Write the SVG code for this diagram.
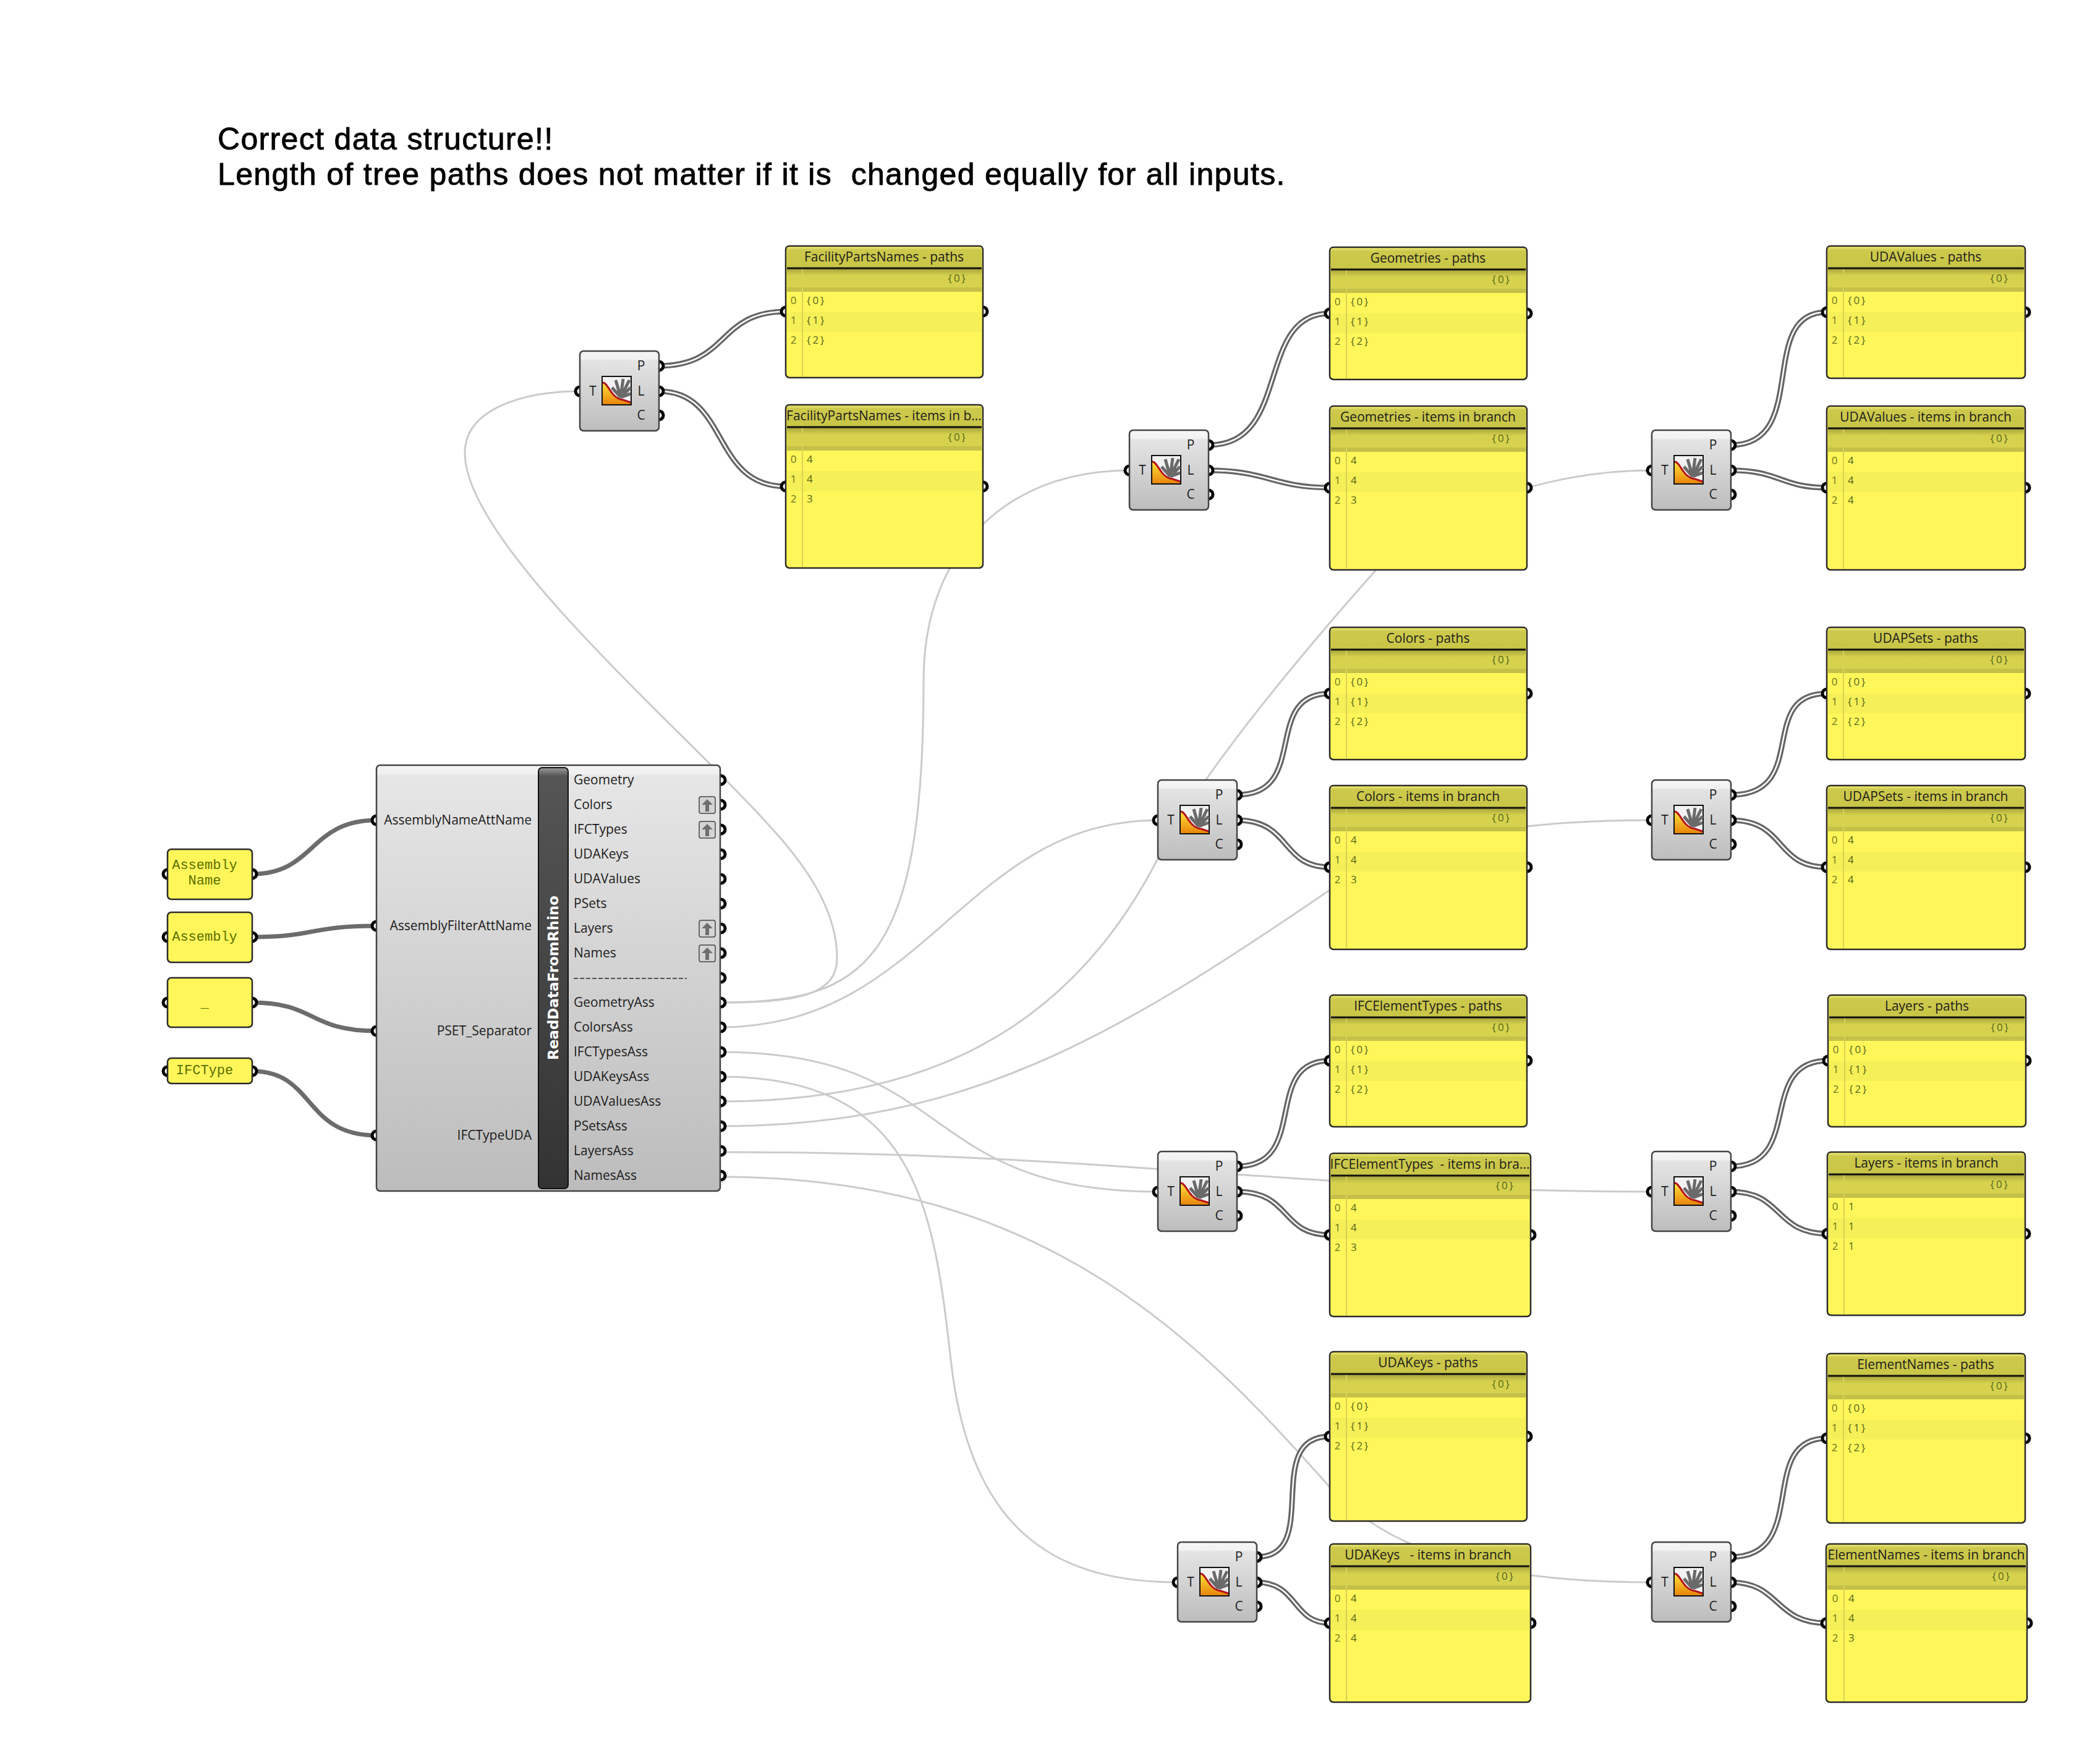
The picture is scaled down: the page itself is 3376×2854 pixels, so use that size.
<svg xmlns="http://www.w3.org/2000/svg" width="3376" height="2854" viewBox="0 0 3376 2854">
<style>
text{font-family:"Open Sans","Noto Sans","Liberation Sans",sans-serif;font-size:21px;fill:#1c1c1c}
.hl{font-family:"Liberation Sans",Arial,sans-serif;font-size:50px;fill:#000;white-space:pre;stroke:#000;stroke-width:.9px;letter-spacing:1.34px}
.m{text-anchor:middle}.e{text-anchor:end}
.mono{font-family:"Open Sans","Noto Sans",sans-serif;font-size:17px;fill:#56661a;letter-spacing:3px}
.idx{fill:#6e7420;text-anchor:middle}
.inp{font-family:"Liberation Mono","Courier New",monospace;font-size:22px;fill:#5a6e00;text-anchor:middle}
.pt{fill:#fff;stroke:#000;stroke-width:5}
.pb{fill:#fff75a;stroke:#2b2b2b;stroke-width:2.5}
.ph{fill:url(#gt)}.pc{fill:url(#gc)}.ps{fill:#f5ef58}
.cl{stroke:#d8d254;stroke-width:2}.tl{stroke:#111;stroke-width:3}
.lw{fill:none;stroke:#cbcbcb;stroke-width:3}
.hw{fill:none;stroke:#6c6c6c;stroke-width:7}
.d1{fill:none;stroke:#666;stroke-width:9}
.d2{fill:none;stroke:#fff;stroke-width:2.5}
</style>
<defs>
<linearGradient id="gt" x1="0" y1="0" x2="0" y2="1"><stop offset="0" stop-color="#e8e476"/><stop offset=".12" stop-color="#cdc94c"/><stop offset="1" stop-color="#c9c546"/></linearGradient>
<linearGradient id="gc" x1="0" y1="0" x2="0" y2="1"><stop offset="0" stop-color="#aaa63c"/><stop offset=".3" stop-color="#d6d24e"/><stop offset=".8" stop-color="#d6d24e"/><stop offset=".81" stop-color="#c4c048"/><stop offset="1" stop-color="#c4c048"/></linearGradient>
<linearGradient id="gb" x1="0" y1="0" x2="0" y2="1"><stop offset="0" stop-color="#f6f6f6"/><stop offset=".1" stop-color="#f2f2f2"/><stop offset=".12" stop-color="#e4e4e4"/><stop offset="1" stop-color="#bdbdbd"/></linearGradient>
<linearGradient id="gm" x1="0" y1="0" x2="0" y2="1"><stop offset="0" stop-color="#f4f4f4"/><stop offset=".02" stop-color="#f0f0f0"/><stop offset=".025" stop-color="#e6e6e6"/><stop offset="1" stop-color="#bcbcbc"/></linearGradient>
<linearGradient id="gk" x1="0" y1="0" x2="0" y2="1"><stop offset="0" stop-color="#9a9a9a"/><stop offset=".02" stop-color="#555"/><stop offset="1" stop-color="#333"/></linearGradient>
<linearGradient id="gi" x1="0" y1="0" x2="0" y2="1"><stop offset="0" stop-color="#ffe23a"/><stop offset="1" stop-color="#e8860c"/></linearGradient>
<g id="cb"><rect width="128" height="129" rx="6" fill="url(#gb)" stroke="#444" stroke-width="2.5"/></g>
<g id="ic"><rect width="47" height="46" fill="#f2f2f2" stroke="#111" stroke-width="2"/><path d="M30 34L44 6M30 34L34 4M30 34L22 6M30 34L46 18M30 34L46 28M30 34L16 18" stroke="#6a6a6a" stroke-width="5" fill="none"/><path d="M1 10C10 10 14 36 34 38L46 42V45H1Z" fill="url(#gi)"/><path d="M1 10C10 10 14 36 34 38L46 42" stroke="#b5121b" stroke-width="3" fill="none"/></g>
<g id="ub"><rect width="26" height="27" rx="3" fill="#d4d4d4" stroke="#444" stroke-width="1.5"/><path d="M13 4L22 13H16V24H10V13H4Z" fill="#6e6e6e"/></g>
<path id="dA1" d="M1066 592C1180 592 1160 504 1271 504"/>
<path id="dA2" d="M1066 633C1180 633 1150 787 1271 787"/>
<path id="dB1" d="M1956 720C2090 720 2030 507 2151 507"/>
<path id="dB2" d="M1956 761C2050 761 2060 789 2151 789"/>
<path id="dC1" d="M2800 720C2930 720 2840 505 2955 505"/>
<path id="dC2" d="M2800 761C2880 761 2880 789 2955 789"/>
<path id="dD1" d="M2001 1286C2120 1286 2040 1122 2151 1122"/>
<path id="dD2" d="M2001 1327C2090 1327 2070 1403 2151 1403"/>
<path id="dE1" d="M2800 1286C2930 1286 2840 1122 2955 1122"/>
<path id="dE2" d="M2800 1327C2890 1327 2870 1403 2955 1403"/>
<path id="dF1" d="M2001 1887C2120 1887 2040 1716 2151 1716"/>
<path id="dF2" d="M2001 1928C2090 1928 2070 1998 2151 1998"/>
<path id="dG1" d="M2800 1887C2920 1887 2840 1716 2957 1716"/>
<path id="dG2" d="M2800 1928C2885 1928 2870 1996 2956 1996"/>
<path id="dH1" d="M2033 2519C2140 2519 2040 2324 2151 2324"/>
<path id="dH2" d="M2033 2560C2100 2560 2090 2626 2151 2626"/>
<path id="dI1" d="M2800 2519C2930 2519 2840 2327 2955 2327"/>
<path id="dI2" d="M2800 2560C2880 2560 2870 2626 2954 2626"/>
</defs>
<rect width="3376" height="2854" fill="#fff"/>
<text class="hl" x="352" y="242">Correct data structure!!</text>
<text class="hl" x="352" y="299">Length of tree paths does not matter if it is  changed equally for all inputs.</text>

<g id="connectors">
<path class="lw" d="M1166 1622C1290 1622 1354 1610 1354 1550C1354 1470 1300 1395 1240 1331C1100 1175 752 880 752 733C752 660 850 633 938 633"/>
<path class="lw" d="M1166 1622C1400 1622 1494 1560 1494 1100C1494 900 1620 761 1827 761"/>
<path class="lw" d="M1166 1662C1500 1662 1560 1327 1873 1327"/>
<path class="lw" d="M1166 1702C1550 1702 1480 1928 1873 1928"/>
<path class="lw" d="M1166 1864C1800 1864 2100 1928 2672 1928"/>
<path class="lw" d="M1166 1742C1480 1742 1510 1950 1538 2200C1568 2470 1700 2560 1905 2560"/>
<path class="lw" d="M1166 1782C1480 1782 1730 1680 1880 1375C1950 1240 2130 1030 2226 922C2300 840 2480 761 2672 761"/>
<path class="lw" d="M1166 1822C1560 1822 1800 1680 2151 1440C2280 1355 2450 1327 2672 1327"/>
<path class="lw" d="M1166 1904C1700 1904 1950 2180 2160 2416C2260 2516 2420 2560 2672 2560"/>
<path class="hw" d="M408 1414C510 1414 500 1327 609 1327"/>
<path class="hw" d="M408 1516C510 1516 500 1498 609 1498"/>
<path class="hw" d="M408 1622C510 1622 500 1668 609 1668"/>
<path class="hw" d="M408 1733C510 1733 490 1837 609 1837"/>
<g class="d1"><use href="#dA1"/><use href="#dA2"/><use href="#dB1"/><use href="#dB2"/><use href="#dC1"/><use href="#dC2"/><use href="#dD1"/><use href="#dD2"/><use href="#dE1"/><use href="#dE2"/><use href="#dF1"/><use href="#dF2"/><use href="#dG1"/><use href="#dG2"/><use href="#dH1"/><use href="#dH2"/><use href="#dI1"/><use href="#dI2"/></g>
<g class="d2"><use href="#dA1"/><use href="#dA2"/><use href="#dB1"/><use href="#dB2"/><use href="#dC1"/><use href="#dC2"/><use href="#dD1"/><use href="#dD2"/><use href="#dE1"/><use href="#dE2"/><use href="#dF1"/><use href="#dF2"/><use href="#dG1"/><use href="#dG2"/><use href="#dH1"/><use href="#dH2"/><use href="#dI1"/><use href="#dI2"/></g>
</g>

<g id="input-assembly-name"><circle class="pt" cx="271" cy="1414" r="7"/><circle class="pt" cx="408" cy="1414" r="7"/><rect class="pb" x="271" y="1374" width="137" height="81" rx="6"/><text class="inp" x="331" y="1406">Assembly</text><text class="inp" x="331" y="1431">Name</text></g>
<g id="input-assembly"><circle class="pt" cx="271" cy="1516" r="7"/><circle class="pt" cx="408" cy="1516" r="7"/><rect class="pb" x="271" y="1476" width="137" height="81" rx="6"/><text class="inp" x="331" y="1522">Assembly</text></g>
<g id="input-separator"><circle class="pt" cx="271" cy="1622" r="7"/><circle class="pt" cx="408" cy="1622" r="7"/><rect class="pb" x="271" y="1582" width="137" height="80" rx="6"/><text class="inp" x="331" y="1630">_</text></g>
<g id="input-ifctype"><circle class="pt" cx="271" cy="1733" r="7"/><circle class="pt" cx="408" cy="1733" r="7"/><rect class="pb" x="271" y="1712" width="137" height="41" rx="6"/><text class="inp" x="331" y="1738">IFCType</text></g>

<g id="read-data-from-rhino">
<circle class="pt" cx="609" cy="1327" r="7"/><circle class="pt" cx="609" cy="1498" r="7"/><circle class="pt" cx="609" cy="1668" r="7"/><circle class="pt" cx="609" cy="1837" r="7"/>
<circle class="pt" cx="1166" cy="1262" r="7"/><circle class="pt" cx="1166" cy="1302" r="7"/><circle class="pt" cx="1166" cy="1342" r="7"/><circle class="pt" cx="1166" cy="1382" r="7"/><circle class="pt" cx="1166" cy="1422" r="7"/><circle class="pt" cx="1166" cy="1462" r="7"/><circle class="pt" cx="1166" cy="1502" r="7"/><circle class="pt" cx="1166" cy="1542" r="7"/><circle class="pt" cx="1166" cy="1582" r="7"/><circle class="pt" cx="1166" cy="1622" r="7"/><circle class="pt" cx="1166" cy="1662" r="7"/><circle class="pt" cx="1166" cy="1702" r="7"/><circle class="pt" cx="1166" cy="1742" r="7"/><circle class="pt" cx="1166" cy="1782" r="7"/><circle class="pt" cx="1166" cy="1822" r="7"/><circle class="pt" cx="1166" cy="1862" r="7"/><circle class="pt" cx="1166" cy="1902" r="7"/>
<rect x="609" y="1238" width="556" height="689" rx="6" fill="url(#gm)" stroke="#444" stroke-width="2.5"/>
<rect x="871" y="1242" width="48" height="681" rx="6" fill="url(#gk)" stroke="#111" stroke-width="2"/>
<text transform="translate(903,1582) rotate(-90)" class="m" style="font-family:'DejaVu Sans',sans-serif;font-weight:700;font-size:23px;fill:#fff">ReadDataFromRhino</text>
<text class="e" x="860" y="1334">AssemblyNameAttName</text><text class="e" x="860" y="1505">AssemblyFilterAttName</text><text class="e" x="860" y="1675">PSET_Separator</text><text class="e" x="860" y="1844">IFCTypeUDA</text>
<text x="928" y="1269">Geometry</text><text x="928" y="1309">Colors</text><text x="928" y="1349">IFCTypes</text><text x="928" y="1389">UDAKeys</text><text x="928" y="1429">UDAValues</text><text x="928" y="1469">PSets</text><text x="928" y="1509">Layers</text><text x="928" y="1549">Names</text>
<line x1="928" y1="1583" x2="1111" y2="1583" stroke="#555" stroke-width="2" stroke-dasharray="7 3"/>
<text x="928" y="1629">GeometryAss</text><text x="928" y="1669">ColorsAss</text><text x="928" y="1709">IFCTypesAss</text><text x="928" y="1749">UDAKeysAss</text><text x="928" y="1789">UDAValuesAss</text><text x="928" y="1829">PSetsAss</text><text x="928" y="1869">LayersAss</text><text x="928" y="1909">NamesAss</text>
<use href="#ub" x="1131" y="1289"/><use href="#ub" x="1131" y="1329"/><use href="#ub" x="1131" y="1489"/><use href="#ub" x="1131" y="1529"/>
</g>

<g id="comp-a" transform="translate(938,568)"><circle class="pt" cy="65" r="7"/><circle class="pt" cx="128" cy="24" r="7"/><circle class="pt" cx="128" cy="65" r="7"/><circle class="pt" cx="128" cy="104" r="7"/><use href="#cb"/><use href="#ic" x="36" y="41"/><text class="m" x="21" y="72">T</text><text class="m" x="99" y="31">P</text><text class="m" x="99" y="72">L</text><text class="m" x="99" y="111">C</text></g>
<g id="comp-b" transform="translate(1827,696)"><circle class="pt" cy="65" r="7"/><circle class="pt" cx="128" cy="24" r="7"/><circle class="pt" cx="128" cy="65" r="7"/><circle class="pt" cx="128" cy="104" r="7"/><use href="#cb"/><use href="#ic" x="36" y="41"/><text class="m" x="21" y="72">T</text><text class="m" x="99" y="31">P</text><text class="m" x="99" y="72">L</text><text class="m" x="99" y="111">C</text></g>
<g id="comp-c" transform="translate(2672,696)"><circle class="pt" cy="65" r="7"/><circle class="pt" cx="128" cy="24" r="7"/><circle class="pt" cx="128" cy="65" r="7"/><circle class="pt" cx="128" cy="104" r="7"/><use href="#cb"/><use href="#ic" x="36" y="41"/><text class="m" x="21" y="72">T</text><text class="m" x="99" y="31">P</text><text class="m" x="99" y="72">L</text><text class="m" x="99" y="111">C</text></g>
<g id="comp-d" transform="translate(1873,1262)"><circle class="pt" cy="65" r="7"/><circle class="pt" cx="128" cy="24" r="7"/><circle class="pt" cx="128" cy="65" r="7"/><circle class="pt" cx="128" cy="104" r="7"/><use href="#cb"/><use href="#ic" x="36" y="41"/><text class="m" x="21" y="72">T</text><text class="m" x="99" y="31">P</text><text class="m" x="99" y="72">L</text><text class="m" x="99" y="111">C</text></g>
<g id="comp-e" transform="translate(2672,1262)"><circle class="pt" cy="65" r="7"/><circle class="pt" cx="128" cy="24" r="7"/><circle class="pt" cx="128" cy="65" r="7"/><circle class="pt" cx="128" cy="104" r="7"/><use href="#cb"/><use href="#ic" x="36" y="41"/><text class="m" x="21" y="72">T</text><text class="m" x="99" y="31">P</text><text class="m" x="99" y="72">L</text><text class="m" x="99" y="111">C</text></g>
<g id="comp-f" transform="translate(1873,1863)"><circle class="pt" cy="65" r="7"/><circle class="pt" cx="128" cy="24" r="7"/><circle class="pt" cx="128" cy="65" r="7"/><circle class="pt" cx="128" cy="104" r="7"/><use href="#cb"/><use href="#ic" x="36" y="41"/><text class="m" x="21" y="72">T</text><text class="m" x="99" y="31">P</text><text class="m" x="99" y="72">L</text><text class="m" x="99" y="111">C</text></g>
<g id="comp-g" transform="translate(2672,1863)"><circle class="pt" cy="65" r="7"/><circle class="pt" cx="128" cy="24" r="7"/><circle class="pt" cx="128" cy="65" r="7"/><circle class="pt" cx="128" cy="104" r="7"/><use href="#cb"/><use href="#ic" x="36" y="41"/><text class="m" x="21" y="72">T</text><text class="m" x="99" y="31">P</text><text class="m" x="99" y="72">L</text><text class="m" x="99" y="111">C</text></g>
<g id="comp-h" transform="translate(1905,2495)"><circle class="pt" cy="65" r="7"/><circle class="pt" cx="128" cy="24" r="7"/><circle class="pt" cx="128" cy="65" r="7"/><circle class="pt" cx="128" cy="104" r="7"/><use href="#cb"/><use href="#ic" x="36" y="41"/><text class="m" x="21" y="72">T</text><text class="m" x="99" y="31">P</text><text class="m" x="99" y="72">L</text><text class="m" x="99" y="111">C</text></g>
<g id="comp-i" transform="translate(2672,2495)"><circle class="pt" cy="65" r="7"/><circle class="pt" cx="128" cy="24" r="7"/><circle class="pt" cx="128" cy="65" r="7"/><circle class="pt" cx="128" cy="104" r="7"/><use href="#cb"/><use href="#ic" x="36" y="41"/><text class="m" x="21" y="72">T</text><text class="m" x="99" y="31">P</text><text class="m" x="99" y="72">L</text><text class="m" x="99" y="111">C</text></g>

<g id="panel-a1" transform="translate(1271,398)"><circle class="pt" cy="106" r="7"/><circle class="pt" cx="319" cy="106" r="7"/><rect class="pb" width="319" height="213" rx="6"/><rect class="ph" x="2" y="2" width="315" height="34"/><rect class="pc" x="2" y="37" width="315" height="37"/><rect class="ps" x="2" y="107" width="315" height="32"/><line class="cl" x1="27" y1="37" x2="27" y2="211"/><line class="tl" x1="2" y1="36" x2="317" y2="36"/><text class="m" x="159" y="25">FacilityPartsNames - paths</text><text class="mono e" x="294" y="58">{0}</text><text class="mono idx" x="14" y="94">0</text><text class="mono" x="34" y="94">{0}</text><text class="mono idx" x="14" y="126">1</text><text class="mono" x="34" y="126">{1}</text><text class="mono idx" x="14" y="158">2</text><text class="mono" x="34" y="158">{2}</text></g>
<g id="panel-a2" transform="translate(1271,655)"><circle class="pt" cy="132" r="7"/><circle class="pt" cx="319" cy="132" r="7"/><rect class="pb" width="319" height="264" rx="6"/><rect class="ph" x="2" y="2" width="315" height="34"/><rect class="pc" x="2" y="37" width="315" height="37"/><rect class="ps" x="2" y="107" width="315" height="32"/><line class="cl" x1="27" y1="37" x2="27" y2="262"/><line class="tl" x1="2" y1="36" x2="317" y2="36"/><text class="m" x="159" y="25">FacilityPartsNames - items in b...</text><text class="mono e" x="294" y="58">{0}</text><text class="mono idx" x="14" y="94">0</text><text class="mono" x="34" y="94">4</text><text class="mono idx" x="14" y="126">1</text><text class="mono" x="34" y="126">4</text><text class="mono idx" x="14" y="158">2</text><text class="mono" x="34" y="158">3</text></g>
<g id="panel-b1" transform="translate(2151,400)"><circle class="pt" cy="107" r="7"/><circle class="pt" cx="319" cy="107" r="7"/><rect class="pb" width="319" height="214" rx="6"/><rect class="ph" x="2" y="2" width="315" height="34"/><rect class="pc" x="2" y="37" width="315" height="37"/><rect class="ps" x="2" y="107" width="315" height="32"/><line class="cl" x1="27" y1="37" x2="27" y2="212"/><line class="tl" x1="2" y1="36" x2="317" y2="36"/><text class="m" x="159" y="25">Geometries - paths</text><text class="mono e" x="294" y="58">{0}</text><text class="mono idx" x="14" y="94">0</text><text class="mono" x="34" y="94">{0}</text><text class="mono idx" x="14" y="126">1</text><text class="mono" x="34" y="126">{1}</text><text class="mono idx" x="14" y="158">2</text><text class="mono" x="34" y="158">{2}</text></g>
<g id="panel-b2" transform="translate(2151,657)"><circle class="pt" cy="132" r="7"/><circle class="pt" cx="319" cy="132" r="7"/><rect class="pb" width="319" height="265" rx="6"/><rect class="ph" x="2" y="2" width="315" height="34"/><rect class="pc" x="2" y="37" width="315" height="37"/><rect class="ps" x="2" y="107" width="315" height="32"/><line class="cl" x1="27" y1="37" x2="27" y2="263"/><line class="tl" x1="2" y1="36" x2="317" y2="36"/><text class="m" x="159" y="25">Geometries - items in branch</text><text class="mono e" x="294" y="58">{0}</text><text class="mono idx" x="14" y="94">0</text><text class="mono" x="34" y="94">4</text><text class="mono idx" x="14" y="126">1</text><text class="mono" x="34" y="126">4</text><text class="mono idx" x="14" y="158">2</text><text class="mono" x="34" y="158">3</text></g>
<g id="panel-c1" transform="translate(2955,398)"><circle class="pt" cy="107" r="7"/><circle class="pt" cx="321" cy="107" r="7"/><rect class="pb" width="321" height="214" rx="6"/><rect class="ph" x="2" y="2" width="317" height="34"/><rect class="pc" x="2" y="37" width="317" height="37"/><rect class="ps" x="2" y="107" width="317" height="32"/><line class="cl" x1="27" y1="37" x2="27" y2="212"/><line class="tl" x1="2" y1="36" x2="319" y2="36"/><text class="m" x="160" y="25">UDAValues - paths</text><text class="mono e" x="296" y="58">{0}</text><text class="mono idx" x="14" y="94">0</text><text class="mono" x="34" y="94">{0}</text><text class="mono idx" x="14" y="126">1</text><text class="mono" x="34" y="126">{1}</text><text class="mono idx" x="14" y="158">2</text><text class="mono" x="34" y="158">{2}</text></g>
<g id="panel-c2" transform="translate(2955,657)"><circle class="pt" cy="132" r="7"/><circle class="pt" cx="321" cy="132" r="7"/><rect class="pb" width="321" height="265" rx="6"/><rect class="ph" x="2" y="2" width="317" height="34"/><rect class="pc" x="2" y="37" width="317" height="37"/><rect class="ps" x="2" y="107" width="317" height="32"/><line class="cl" x1="27" y1="37" x2="27" y2="263"/><line class="tl" x1="2" y1="36" x2="319" y2="36"/><text class="m" x="160" y="25">UDAValues - items in branch</text><text class="mono e" x="296" y="58">{0}</text><text class="mono idx" x="14" y="94">0</text><text class="mono" x="34" y="94">4</text><text class="mono idx" x="14" y="126">1</text><text class="mono" x="34" y="126">4</text><text class="mono idx" x="14" y="158">2</text><text class="mono" x="34" y="158">4</text></g>
<g id="panel-d1" transform="translate(2151,1015)"><circle class="pt" cy="107" r="7"/><circle class="pt" cx="319" cy="107" r="7"/><rect class="pb" width="319" height="214" rx="6"/><rect class="ph" x="2" y="2" width="315" height="34"/><rect class="pc" x="2" y="37" width="315" height="37"/><rect class="ps" x="2" y="107" width="315" height="32"/><line class="cl" x1="27" y1="37" x2="27" y2="212"/><line class="tl" x1="2" y1="36" x2="317" y2="36"/><text class="m" x="159" y="25">Colors - paths</text><text class="mono e" x="294" y="58">{0}</text><text class="mono idx" x="14" y="94">0</text><text class="mono" x="34" y="94">{0}</text><text class="mono idx" x="14" y="126">1</text><text class="mono" x="34" y="126">{1}</text><text class="mono idx" x="14" y="158">2</text><text class="mono" x="34" y="158">{2}</text></g>
<g id="panel-d2" transform="translate(2151,1271)"><circle class="pt" cy="132" r="7"/><circle class="pt" cx="319" cy="132" r="7"/><rect class="pb" width="319" height="265" rx="6"/><rect class="ph" x="2" y="2" width="315" height="34"/><rect class="pc" x="2" y="37" width="315" height="37"/><rect class="ps" x="2" y="107" width="315" height="32"/><line class="cl" x1="27" y1="37" x2="27" y2="263"/><line class="tl" x1="2" y1="36" x2="317" y2="36"/><text class="m" x="159" y="25">Colors - items in branch</text><text class="mono e" x="294" y="58">{0}</text><text class="mono idx" x="14" y="94">0</text><text class="mono" x="34" y="94">4</text><text class="mono idx" x="14" y="126">1</text><text class="mono" x="34" y="126">4</text><text class="mono idx" x="14" y="158">2</text><text class="mono" x="34" y="158">3</text></g>
<g id="panel-e1" transform="translate(2955,1015)"><circle class="pt" cy="107" r="7"/><circle class="pt" cx="321" cy="107" r="7"/><rect class="pb" width="321" height="214" rx="6"/><rect class="ph" x="2" y="2" width="317" height="34"/><rect class="pc" x="2" y="37" width="317" height="37"/><rect class="ps" x="2" y="107" width="317" height="32"/><line class="cl" x1="27" y1="37" x2="27" y2="212"/><line class="tl" x1="2" y1="36" x2="319" y2="36"/><text class="m" x="160" y="25">UDAPSets - paths</text><text class="mono e" x="296" y="58">{0}</text><text class="mono idx" x="14" y="94">0</text><text class="mono" x="34" y="94">{0}</text><text class="mono idx" x="14" y="126">1</text><text class="mono" x="34" y="126">{1}</text><text class="mono idx" x="14" y="158">2</text><text class="mono" x="34" y="158">{2}</text></g>
<g id="panel-e2" transform="translate(2955,1271)"><circle class="pt" cy="132" r="7"/><circle class="pt" cx="321" cy="132" r="7"/><rect class="pb" width="321" height="265" rx="6"/><rect class="ph" x="2" y="2" width="317" height="34"/><rect class="pc" x="2" y="37" width="317" height="37"/><rect class="ps" x="2" y="107" width="317" height="32"/><line class="cl" x1="27" y1="37" x2="27" y2="263"/><line class="tl" x1="2" y1="36" x2="319" y2="36"/><text class="m" x="160" y="25">UDAPSets - items in branch</text><text class="mono e" x="296" y="58">{0}</text><text class="mono idx" x="14" y="94">0</text><text class="mono" x="34" y="94">4</text><text class="mono idx" x="14" y="126">1</text><text class="mono" x="34" y="126">4</text><text class="mono idx" x="14" y="158">2</text><text class="mono" x="34" y="158">4</text></g>
<g id="panel-f1" transform="translate(2151,1610)"><circle class="pt" cy="106" r="7"/><circle class="pt" cx="319" cy="106" r="7"/><rect class="pb" width="319" height="213" rx="6"/><rect class="ph" x="2" y="2" width="315" height="34"/><rect class="pc" x="2" y="37" width="315" height="37"/><rect class="ps" x="2" y="107" width="315" height="32"/><line class="cl" x1="27" y1="37" x2="27" y2="211"/><line class="tl" x1="2" y1="36" x2="317" y2="36"/><text class="m" x="159" y="25">IFCElementTypes - paths</text><text class="mono e" x="294" y="58">{0}</text><text class="mono idx" x="14" y="94">0</text><text class="mono" x="34" y="94">{0}</text><text class="mono idx" x="14" y="126">1</text><text class="mono" x="34" y="126">{1}</text><text class="mono idx" x="14" y="158">2</text><text class="mono" x="34" y="158">{2}</text></g>
<g id="panel-f2" transform="translate(2151,1866)"><circle class="pt" cy="132" r="7"/><circle class="pt" cx="325" cy="132" r="7"/><rect class="pb" width="325" height="264" rx="6"/><rect class="ph" x="2" y="2" width="321" height="34"/><rect class="pc" x="2" y="37" width="321" height="37"/><rect class="ps" x="2" y="107" width="321" height="32"/><line class="cl" x1="27" y1="37" x2="27" y2="262"/><line class="tl" x1="2" y1="36" x2="323" y2="36"/><text class="m" x="162" y="25" style="white-space:pre">IFCElementTypes  - items in bra...</text><text class="mono e" x="300" y="58">{0}</text><text class="mono idx" x="14" y="94">0</text><text class="mono" x="34" y="94">4</text><text class="mono idx" x="14" y="126">1</text><text class="mono" x="34" y="126">4</text><text class="mono idx" x="14" y="158">2</text><text class="mono" x="34" y="158">3</text></g>
<g id="panel-g1" transform="translate(2957,1610)"><circle class="pt" cy="106" r="7"/><circle class="pt" cx="320" cy="106" r="7"/><rect class="pb" width="320" height="213" rx="6"/><rect class="ph" x="2" y="2" width="316" height="34"/><rect class="pc" x="2" y="37" width="316" height="37"/><rect class="ps" x="2" y="107" width="316" height="32"/><line class="cl" x1="27" y1="37" x2="27" y2="211"/><line class="tl" x1="2" y1="36" x2="318" y2="36"/><text class="m" x="160" y="25">Layers - paths</text><text class="mono e" x="295" y="58">{0}</text><text class="mono idx" x="14" y="94">0</text><text class="mono" x="34" y="94">{0}</text><text class="mono idx" x="14" y="126">1</text><text class="mono" x="34" y="126">{1}</text><text class="mono idx" x="14" y="158">2</text><text class="mono" x="34" y="158">{2}</text></g>
<g id="panel-g2" transform="translate(2956,1864)"><circle class="pt" cy="132" r="7"/><circle class="pt" cx="320" cy="132" r="7"/><rect class="pb" width="320" height="264" rx="6"/><rect class="ph" x="2" y="2" width="316" height="34"/><rect class="pc" x="2" y="37" width="316" height="37"/><rect class="ps" x="2" y="107" width="316" height="32"/><line class="cl" x1="27" y1="37" x2="27" y2="262"/><line class="tl" x1="2" y1="36" x2="318" y2="36"/><text class="m" x="160" y="25">Layers - items in branch</text><text class="mono e" x="295" y="58">{0}</text><text class="mono idx" x="14" y="94">0</text><text class="mono" x="34" y="94">1</text><text class="mono idx" x="14" y="126">1</text><text class="mono" x="34" y="126">1</text><text class="mono idx" x="14" y="158">2</text><text class="mono" x="34" y="158">1</text></g>
<g id="panel-h1" transform="translate(2151,2187)"><circle class="pt" cy="137" r="7"/><circle class="pt" cx="319" cy="137" r="7"/><rect class="pb" width="319" height="274" rx="6"/><rect class="ph" x="2" y="2" width="315" height="34"/><rect class="pc" x="2" y="37" width="315" height="37"/><rect class="ps" x="2" y="107" width="315" height="32"/><line class="cl" x1="27" y1="37" x2="27" y2="272"/><line class="tl" x1="2" y1="36" x2="317" y2="36"/><text class="m" x="159" y="25">UDAKeys - paths</text><text class="mono e" x="294" y="58">{0}</text><text class="mono idx" x="14" y="94">0</text><text class="mono" x="34" y="94">{0}</text><text class="mono idx" x="14" y="126">1</text><text class="mono" x="34" y="126">{1}</text><text class="mono idx" x="14" y="158">2</text><text class="mono" x="34" y="158">{2}</text></g>
<g id="panel-h2" transform="translate(2151,2498)"><circle class="pt" cy="128" r="7"/><circle class="pt" cx="325" cy="128" r="7"/><rect class="pb" width="325" height="256" rx="6"/><rect class="ph" x="2" y="2" width="321" height="34"/><rect class="pc" x="2" y="37" width="321" height="37"/><rect class="ps" x="2" y="107" width="321" height="32"/><line class="cl" x1="27" y1="37" x2="27" y2="254"/><line class="tl" x1="2" y1="36" x2="323" y2="36"/><text class="m" x="159" y="25" style="white-space:pre">UDAKeys   - items in branch</text><text class="mono e" x="300" y="58">{0}</text><text class="mono idx" x="14" y="94">0</text><text class="mono" x="34" y="94">4</text><text class="mono idx" x="14" y="126">1</text><text class="mono" x="34" y="126">4</text><text class="mono idx" x="14" y="158">2</text><text class="mono" x="34" y="158">4</text></g>
<g id="panel-i1" transform="translate(2955,2190)"><circle class="pt" cy="137" r="7"/><circle class="pt" cx="321" cy="137" r="7"/><rect class="pb" width="321" height="274" rx="6"/><rect class="ph" x="2" y="2" width="317" height="34"/><rect class="pc" x="2" y="37" width="317" height="37"/><rect class="ps" x="2" y="107" width="317" height="32"/><line class="cl" x1="27" y1="37" x2="27" y2="272"/><line class="tl" x1="2" y1="36" x2="319" y2="36"/><text class="m" x="160" y="25">ElementNames - paths</text><text class="mono e" x="296" y="58">{0}</text><text class="mono idx" x="14" y="94">0</text><text class="mono" x="34" y="94">{0}</text><text class="mono idx" x="14" y="126">1</text><text class="mono" x="34" y="126">{1}</text><text class="mono idx" x="14" y="158">2</text><text class="mono" x="34" y="158">{2}</text></g>
<g id="panel-i2" transform="translate(2954,2498)"><circle class="pt" cy="128" r="7"/><circle class="pt" cx="325" cy="128" r="7"/><rect class="pb" width="325" height="256" rx="6"/><rect class="ph" x="2" y="2" width="321" height="34"/><rect class="pc" x="2" y="37" width="321" height="37"/><rect class="ps" x="2" y="107" width="321" height="32"/><line class="cl" x1="29" y1="37" x2="29" y2="254"/><line class="tl" x1="2" y1="36" x2="323" y2="36"/><text class="m" x="162" y="25">ElementNames - items in branch</text><text class="mono e" x="300" y="58">{0}</text><text class="mono idx" x="16" y="94">0</text><text class="mono" x="36" y="94">4</text><text class="mono idx" x="16" y="126">1</text><text class="mono" x="36" y="126">4</text><text class="mono idx" x="16" y="158">2</text><text class="mono" x="36" y="158">3</text></g>
</svg>
